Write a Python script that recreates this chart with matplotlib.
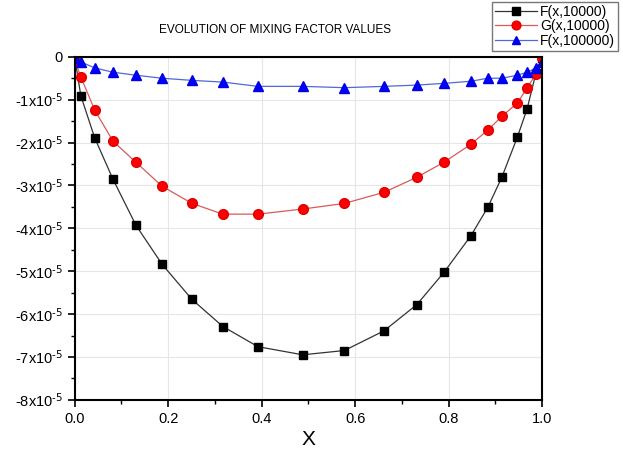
import matplotlib
matplotlib.use("Agg")
from matplotlib import pyplot as plt
from matplotlib.ticker import MultipleLocator, FuncFormatter

plt.rcParams['font.family'] = ['Liberation Sans', 'DejaVu Sans']
plt.rcParams['mathtext.default'] = 'regular'
plt.rcParams['axes.unicode_minus'] = False

# data
x = [0.0, 0.013, 0.043, 0.082, 0.131, 0.187, 0.251, 0.317, 0.392, 0.488, 0.577,
     0.662, 0.732, 0.790, 0.848, 0.884, 0.914, 0.947, 0.968, 0.987, 1.0]
f_10000 = [-0.02, -0.91, -1.90, -2.86, -3.93, -4.84, -5.66, -6.29, -6.76, -6.95, -6.85,
           -6.39, -5.78, -5.03, -4.17, -3.51, -2.81, -1.88, -1.22, -0.38, -0.02]
g_10000 = [-0.08, -0.47, -1.25, -1.97, -2.46, -3.02, -3.42, -3.67, -3.67, -3.55, -3.42,
           -3.16, -2.81, -2.46, -2.04, -1.71, -1.39, -1.08, -0.73, -0.40, -0.03]
f_100000 = [-0.03, -0.12, -0.26, -0.36, -0.43, -0.50, -0.55, -0.59, -0.69, -0.69, -0.72,
            -0.69, -0.66, -0.62, -0.57, -0.50, -0.50, -0.43, -0.36, -0.27, -0.13]
labels = ['F(x,10000)', 'G(x,10000)', 'F(x,100000)']
scale = 1e-5

fig = plt.figure(figsize=(6.23, 4.58), dpi=100)
ax = fig.add_axes([0.120, 0.127, 0.750, 0.749])

ax.plot(x, [v * scale for v in f_10000], color='#333333', lw=0.9, marker='s', ms=6,
        mfc='black', mec='black', label=labels[0])
ax.plot(x, [v * scale for v in g_10000], color='#d85a5a', lw=0.9, marker='o', ms=7,
        mfc='#ff0000', mec='#e00000', label=labels[1])
ax.plot(x, [v * scale for v in f_100000], color='#5068d8', lw=0.9, marker='^', ms=7,
        mfc='#0000ff', mec='#0000e0', label=labels[2])

ax.set_xlim(0, 1.0)
ax.set_ylim(-8e-5, 0)
ax.xaxis.set_major_locator(MultipleLocator(0.2))
ax.xaxis.set_minor_locator(MultipleLocator(0.1))
ax.yaxis.set_major_locator(MultipleLocator(1e-5))
ax.yaxis.set_minor_locator(MultipleLocator(0.5e-5))


def ylab(v, pos):
    k = int(round(v / scale))
    if k == 0:
        return '0'
    return r'%dx10$^{\text{-5}}$' % k


ax.yaxis.set_major_formatter(FuncFormatter(ylab))
ax.xaxis.set_major_formatter(FuncFormatter(lambda v, p: '%.1f' % v))
ax.tick_params(which='major', direction='out', length=5, width=1.2, labelsize=10.5)
ax.tick_params(which='minor', direction='out', length=3, width=1.0)
ax.grid(True, which='major', color='#e6e6e6', lw=0.8)
ax.set_axisbelow(True)
for s in ax.spines.values():
    s.set_linewidth(1.5)

ax.set_xlabel('X', fontsize=15, labelpad=3)
fig.text(0.441, 0.935, 'EVOLUTION OF MIXING FACTOR VALUES', ha='center', va='center', fontsize=8.5)

fig.legend(loc='upper right', bbox_to_anchor=(0.992, 0.996), borderaxespad=0, fontsize=10,
           frameon=True, fancybox=False, edgecolor='#555555', handlelength=3.0, borderpad=0.2,
           labelspacing=0.05, handletextpad=0.25, markerscale=0.9)

fig.savefig('out.png', dpi=100)
